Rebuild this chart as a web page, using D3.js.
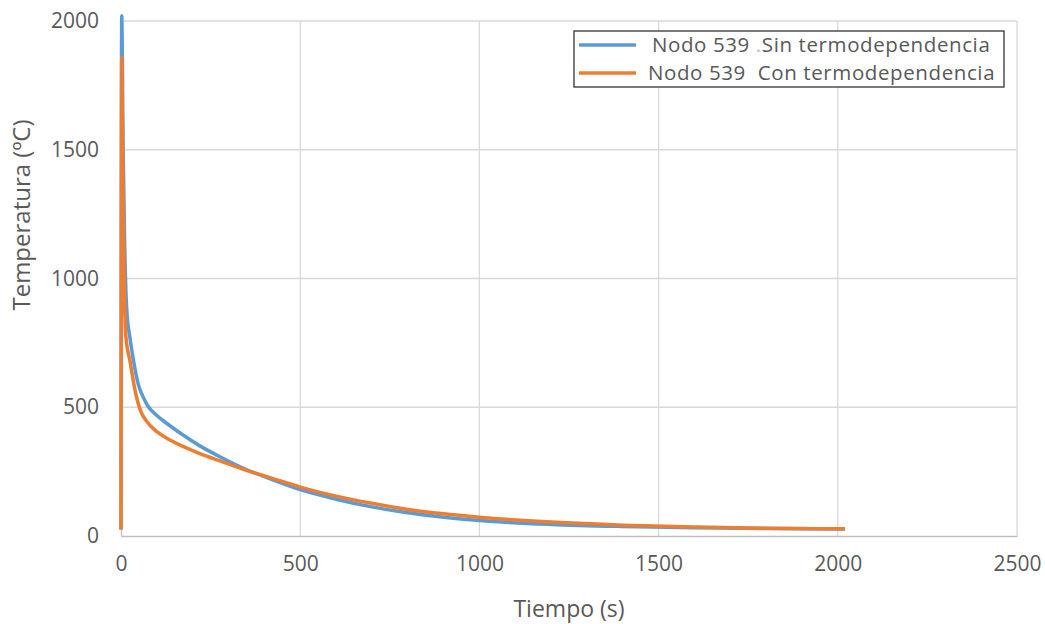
<!DOCTYPE html>
<html>
<head>
<meta charset="utf-8">
<script src="https://cdn.jsdelivr.net/npm/d3@7"></script>
<style>
  body { margin: 0; background: #fff; }
  text { font-family: "Open Sans", sans-serif; fill: #595959; }
</style>
</head>
<body>
<svg id="chart" width="1045" height="624"></svg>
<script>
// Datos
const tiempoSin = [0, 2, 6, 10, 16, 25, 35, 48, 60, 75, 100, 130, 170, 220, 280, 350, 420, 500, 600, 700, 800, 900, 1000, 1200, 1400, 1600, 1800, 2020];
const tempSin   = [25, 2020, 1500, 1150, 880, 770, 680, 590, 545, 505, 468, 435, 395, 350, 305, 258, 220, 180, 143, 113, 90, 73, 60, 45, 37, 32, 29, 27];

const tiempoCon = [0, 2, 6, 10, 14, 25, 40, 55, 70, 100, 130, 170, 220, 280, 350, 420, 500, 600, 700, 800, 900, 1000, 1200, 1400, 1600, 1800, 2020];
const tempCon   = [25, 1860, 1250, 900, 770, 680, 560, 485, 448, 405, 378, 350, 320, 290, 255, 225, 190, 155, 127, 103, 86, 73, 54, 42, 35, 30, 28];

const xTicks = [0, 500, 1000, 1500, 2000, 2500];
const yTicks = [0, 500, 1000, 1500, 2000];
const series = [
  { nombre: "Nodo 539 ", sufijo: "Sin termodependencia", t: tiempoSin, v: tempSin, color: "#5B9BD5" },
  { nombre: "Nodo 539  ", sufijo: "Con termodependencia", t: tiempoCon, v: tempCon, color: "#ED7D31" }
];

const svg = d3.select("#chart");
const margin = { top: 21, right: 28, bottom: 88, left: 121 };
const width = 1045, height = 624;

const x = d3.scaleLinear().domain([0, 2500]).range([margin.left, width - margin.right]);
const y = d3.scaleLinear().domain([0, 2000]).range([height - margin.bottom, margin.top]);

// rejilla
svg.append("g")
  .selectAll("line")
  .data(yTicks.filter(d => d > 0))
  .join("line")
  .attr("x1", x(0)).attr("x2", x(2500))
  .attr("y1", d => y(d)).attr("y2", d => y(d))
  .attr("stroke", "#d9d9d9").attr("stroke-width", 1.3);

svg.append("g")
  .selectAll("line")
  .data(xTicks.filter(d => d > 0))
  .join("line")
  .attr("x1", d => x(d)).attr("x2", d => x(d))
  .attr("y1", y(0)).attr("y2", y(2000))
  .attr("stroke", "#d9d9d9").attr("stroke-width", 1.3);

// ejes
const xAxis = g => g
  .attr("transform", `translate(0,${y(0)})`)
  .call(d3.axisBottom(x).tickValues(xTicks).tickSize(0).tickPadding(20).tickFormat(d3.format("d")))
  .call(g => g.select(".domain").attr("stroke", "#bfbfbf").attr("stroke-width", 1.3));

const yAxis = g => g
  .attr("transform", `translate(${x(0)},0)`)
  .call(d3.axisLeft(y).tickValues(yTicks).tickSize(0).tickPadding(22).tickFormat(d3.format("d")))
  .call(g => g.select(".domain").attr("stroke", "#bfbfbf").attr("stroke-width", 1.3));

svg.append("g").call(xAxis);
svg.append("g").call(yAxis);
svg.selectAll(".tick text")
  .attr("font-family", "Open Sans, sans-serif")
  .attr("font-size", 21)
  .attr("fill", "#595959");

// titulos
svg.append("text")
  .attr("x", 569)
  .attr("y", 617)
  .attr("text-anchor", "middle")
  .attr("font-size", 23)
  .text("Tiempo (s)");

svg.append("text")
  .attr("transform", `translate(30,215) rotate(-90)`)
  .attr("text-anchor", "middle")
  .attr("font-size", 24)
  .text("Temperatura (ºC)");

// lineas
const line = d3.line().curve(d3.curveMonotoneX);
series.forEach(s => {
  svg.append("path")
    .datum(s.t.map((t, i) => [x(t), y(s.v[i])]))
    .attr("fill", "none")
    .attr("stroke", s.color)
    .attr("stroke-width", 3.5)
    .attr("stroke-linejoin", "round")
    .attr("d", line);
});

// leyenda
const leg = svg.append("g");
leg.append("rect")
  .attr("x", 574).attr("y", 31).attr("width", 430).attr("height", 56)
  .attr("fill", "#fff").attr("stroke", "#333").attr("stroke-width", 1.3);

series.forEach((s, i) => {
  const yy = 45 + i * 28;
  leg.append("line")
    .attr("x1", 579).attr("x2", 636)
    .attr("y1", yy).attr("y2", yy)
    .attr("stroke", s.color).attr("stroke-width", 3.5);
  const t = leg.append("text")
    .attr("x", i === 0 ? 652 : 648).attr("y", yy + 7)
    .attr("font-size", 20.5)
    .attr("letter-spacing", 0.6)
    .attr("xml:space", "preserve")
    .style("white-space", "pre");
  t.append("tspan").text(s.nombre);
  if (i === 0) t.append("tspan").attr("fill", "#bbb").text(".");
  t.append("tspan").text(s.sufijo);
});
</script>
</body>
</html>
